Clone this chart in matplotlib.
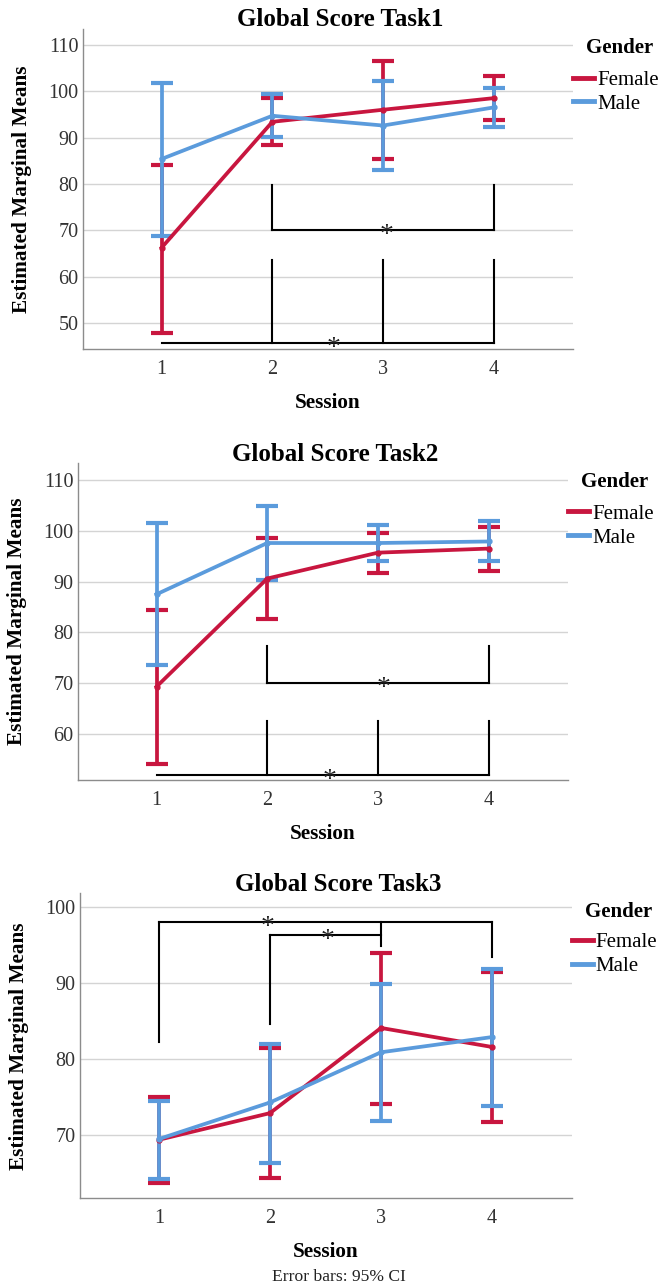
import matplotlib
matplotlib.use('Agg')
import matplotlib.pyplot as plt
from matplotlib.lines import Line2D

plt.rcParams['font.family'] = ['Liberation Serif', 'DejaVu Serif']

sessions = [1, 2, 3, 4]
genders = ['Female', 'Male']
titles = ['Global Score Task1', 'Global Score Task2', 'Global Score Task3']

# estimated marginal means and 95% CI per task, per gender
means = [
    {'Female': [66.3, 93.4, 96.0, 98.5], 'Male': [85.4, 94.7, 92.6, 96.5]},
    {'Female': [69.3, 90.6, 95.7, 96.5], 'Male': [87.5, 97.6, 97.6, 97.9]},
    {'Female': [69.4, 72.9, 84.1, 81.6], 'Male': [69.5, 74.3, 80.9, 82.9]},
]
ci_low = [
    {'Female': [48.0, 88.3, 85.4, 93.8], 'Male': [68.9, 90.1, 83.1, 92.3]},
    {'Female': [54.0, 82.6, 91.7, 92.1], 'Male': [73.6, 90.3, 94.0, 94.0]},
    {'Female': [63.7, 64.4, 74.1, 71.8], 'Male': [64.3, 66.4, 71.9, 73.8]},
]
ci_high = [
    {'Female': [84.0, 98.5, 106.5, 103.2], 'Male': [101.8, 99.3, 102.2, 100.7]},
    {'Female': [84.4, 98.6, 99.6, 100.8], 'Male': [101.5, 104.9, 101.1, 101.9]},
    {'Female': [75.0, 81.4, 93.9, 91.5], 'Male': [74.5, 82.0, 89.9, 91.9]},
]

ylims = [(44.4, 113.4), (50.9, 113.3), (61.7, 101.8)]
yticks = [[50, 60, 70, 80, 90, 100, 110], [60, 70, 80, 90, 100, 110], [70, 80, 90, 100]]

# significance brackets: (x_from, x_to, y_bar, [(x, y_tip), ...], star_x)
brackets = [
    [(2, 4, 70.0, [(2, 79.8), (4, 79.8)], 3.03),
     (1, 4, 45.7, [(2, 63.7), (3, 63.7), (4, 63.7)], 2.55)],
    [(2, 4, 70.0, [(2, 77.4), (4, 77.4)], 3.05),
     (1, 4, 51.9, [(2, 62.6), (3, 62.6), (4, 62.6)], 2.56)],
    [(1, 4, 98.0, [(1, 82.2), (3, 94.9), (4, 93.4)], 1.98),
     (2, 3, 96.3, [(2, 84.6)], 2.52)],
]

colors = {'Female': '#C8163F', 'Male': '#5B9BDC'}

# axes boxes in figure fractions [left, bottom, width, height]
boxes = [[0.1244, 0.7286, 0.738, 0.2489],
         [0.1167, 0.3939, 0.738, 0.2461],
         [0.1200, 0.0689, 0.740, 0.2370]]

fig = plt.figure(figsize=(6.65, 12.87), dpi=100)

for i in range(3):
    ax = fig.add_axes(boxes[i])
    for g in genders:
        m = means[i][g]
        lo = [m[k] - ci_low[i][g][k] for k in range(4)]
        hi = [ci_high[i][g][k] - m[k] for k in range(4)]
        ax.errorbar(sessions, m, yerr=[lo, hi], color=colors[g], lw=2.7,
                    elinewidth=2.7, capsize=8, capthick=3,
                    marker='o', markersize=3.5, zorder=3)

    for x0, x1, yb, tips, sx in brackets[i]:
        ax.plot([x0, x1], [yb, yb], color='black', lw=1.5, zorder=2)
        for tx, ty in tips:
            ax.plot([tx, tx], [yb, ty], color='black', lw=1.5, zorder=2)
        ax.annotate('*', (sx, yb), xytext=(0, -4), textcoords='offset points',
                    ha='center', va='center', fontsize=20, color='#222222', zorder=4)

    ax.set_xlim(0.287, 4.72)
    ax.set_ylim(*ylims[i])
    ax.set_xticks(sessions)
    ax.set_yticks(yticks[i])
    ax.yaxis.grid(True, color='#d4d4d4', lw=1.0)
    ax.set_axisbelow(True)
    for s in ['top', 'right']:
        ax.spines[s].set_visible(False)
    for s in ['left', 'bottom']:
        ax.spines[s].set_color('#8c8c8c')
        ax.spines[s].set_linewidth(1.0)
    ax.tick_params(length=0, labelsize=14.5, labelcolor='#333333')
    ax.tick_params(axis='y', pad=3)
    ax.tick_params(axis='x', pad=8)
    ax.set_title(titles[i], fontsize=18, fontweight='bold', x=0.525, y=1.0, pad=2)
    ax.set_ylabel('Estimated Marginal Means', fontsize=15.3, fontweight='bold', labelpad=12)
    ax.set_xlabel('Session', fontsize=15.3, fontweight='bold', labelpad=10)

    handles = [Line2D([], [], color=colors[g], lw=3.5) for g in genders]
    leg = ax.legend(handles, genders, loc='upper left',
                    bbox_to_anchor=(1.0, 0.871), frameon=False, fontsize=15,
                    handlelength=1.0, handletextpad=0.15, labelspacing=0.2,
                    borderaxespad=0.0, borderpad=0.0)
    ax.text(1.094, 0.94, 'Gender', transform=ax.transAxes, ha='center', va='center',
            fontsize=15, fontweight='bold')

fig.text(0.509, 0.008, 'Error bars: 95% CI', ha='center', va='center', fontsize=12.6,
         color='#222222')

fig.savefig('out.png', dpi=100)
